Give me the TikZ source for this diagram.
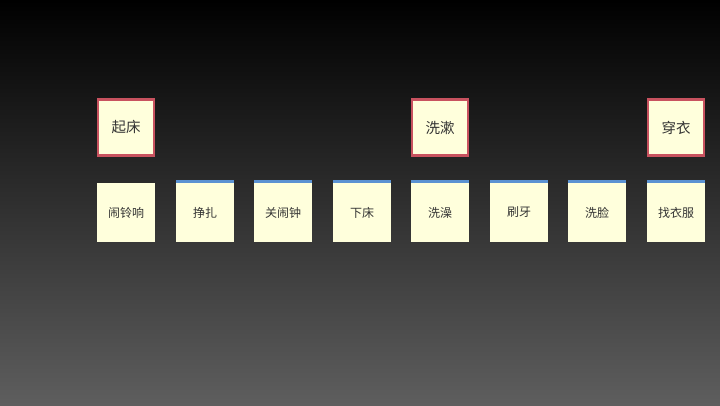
\documentclass[tikz,border=0pt]{standalone}
\usepackage{fontspec}
\newfontfamily\cjk{Noto Sans CJK SC}
\definecolor{boxfill}{HTML}{FFFFDC}
\definecolor{redborder}{HTML}{C8525F}
\definecolor{blueline}{HTML}{5B92D2}
\definecolor{txt}{HTML}{333333}
\definecolor{bgbot}{HTML}{5E5E5E}
\begin{document}
\begin{tikzpicture}[x=1pt,y=-1pt,
  topbox/.style={draw=redborder,line width=2.3pt,fill=boxfill,minimum width=56pt,minimum height=56pt,inner sep=0pt,font=\cjk\fontsize{14.5}{16}\selectfont,text=txt},
  subbox/.style={fill=boxfill,minimum width=58pt,minimum height=59pt,inner sep=0pt,font=\cjk\fontsize{12}{14}\selectfont,text=txt},
  bluebar/.style={draw=blueline,line width=2.5pt}]
\shade[top color=black,bottom color=bgbot] (0,0) rectangle (720,405);
\useasboundingbox (0,0) rectangle (720,405);
\node[topbox] (qichuang) at (126,127.5) {起床};
\node[topbox] (xishu) at (440,127.5) {洗漱};
\node[topbox] (chuanyi) at (676,127.5) {穿衣};
\node[subbox] (n1) at (126,212.5) {闹铃响};
\node[subbox] (n2) at (205,212.5) {挣扎};
\node[subbox] (n3) at (283,212.5) {关闹钟};
\node[subbox] (n4) at (362,212.5) {下床};
\node[subbox] (n5) at (440,212.5) {洗澡};
\node[subbox] (n6) at (519,212.5) {刷牙};
\node[subbox] (n7) at (597,212.5) {洗脸};
\node[subbox] (n8) at (676,212.5) {找衣服};
\foreach \n in {n2,n3,n4,n5,n6,n7,n8}{
  \draw[bluebar] ([yshift=1.25pt]\n.north west) -- ([yshift=1.25pt]\n.north east);
}
\end{tikzpicture}
\end{document}
